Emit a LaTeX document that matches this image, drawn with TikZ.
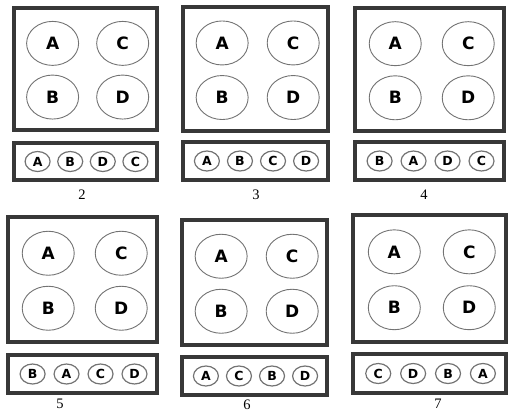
\documentclass[tikz,border=0pt]{standalone}
\usepackage{fontspec}
\setmainfont{Liberation Serif}
\newfontfamily\keyfont{DejaVu Sans}
\usetikzlibrary{shapes.geometric,positioning}

\tikzset{
  frame/.style={draw=black!78, line width=3.5pt},
  bigkey/.style={ellipse, draw=black!55, line width=0.9pt, minimum width=52pt, minimum height=44pt, inner sep=0pt, font=\keyfont\bfseries\fontsize{17}{17}\selectfont},
  smallkey/.style={ellipse, draw=black!55, line width=1.2pt, minimum width=25pt, minimum height=20pt, inner sep=0pt, font=\keyfont\bfseries\fontsize{12.5}{12.5}\selectfont},
  caption/.style={font=\fontsize{14.5}{14.5}\selectfont}
}

\begin{document}
\begin{tikzpicture}[x=1pt,y=-1pt]
\useasboundingbox (0,0) rectangle (508,413);
% one panel per arrangement: big box, key strip, number
\foreach \n/\L/\R/\T/\B/\S/\E/\lx/\ly/\order in {
  2/14/157/8/130/143/180/82/195/{A,B,D,C},
  3/183/328/7/131/142/180/256/195/{A,B,C,D},
  4/355/504/8/131/142/180/424/195/{B,A,D,C},
  5/8/157/217/342/355/393/60/404/{B,A,C,D},
  6/182/327/220/345/357/395/247/405/{A,C,B,D},
  7/353/506/215/342/354/393/438/404/{C,D,B,A}} {
  \draw[frame] (\L,\T) rectangle (\R,\B);
  \draw[frame] (\L,\S) rectangle (\R,\E);
  \pgfmathsetmacro{\xl}{\L+0.27*(\R-\L)}
  \pgfmathsetmacro{\xr}{\L+0.76*(\R-\L)}
  \pgfmathsetmacro{\yt}{\T+0.29*(\B-\T)}
  \pgfmathsetmacro{\yb}{\T+0.73*(\B-\T)}
  \node[bigkey] (A\n) at (\xl,\yt) {A};
  \node[bigkey] (C\n) at (\xr,\yt) {C};
  \node[bigkey] (B\n) at (\xl,\yb) {B};
  \node[bigkey] (D\n) at (\xr,\yb) {D};
  % keys in the strip
  \pgfmathsetmacro{\ym}{(\S+\E)/2}
  \foreach \k [count=\i] in \order {
    \pgfmathsetmacro{\xs}{\L+(\R-\L)*(0.165+0.228*(\i-1))}
    \node[smallkey] (s\n-\i) at (\xs,\ym) {\k};
  }
  \node[caption] (lab\n) at (\lx,\ly) {\n};
}
\end{tikzpicture}
\end{document}
